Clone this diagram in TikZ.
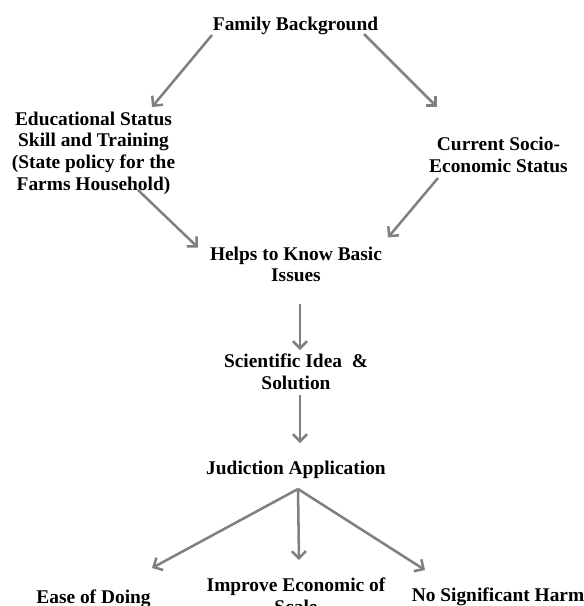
\documentclass[tikz,border=0pt]{standalone}
\usepackage{fontspec}
\setmainfont{Liberation Serif}
\definecolor{arrgray}{RGB}{128, 128, 128}
\usepackage{tikz}
\usetikzlibrary{arrows.meta, positioning, calc}

\begin{document}
\begin{tikzpicture}[x=0.025cm, y=-0.025cm,
  lbl/.style={align=center, inner sep=0pt, font=\fontsize{13.8}{15.4}\selectfont\bfseries},
  arr/.style={-{Straight Barb[length=5pt, width=10pt]}, line width=1.8pt, arrgray}]
  \useasboundingbox (0, 0) rectangle (584, 606);

  % Top of the chart
  \node[lbl] (fam) at (295.5, 26) {Family Background};
  \node[lbl] (edu) at (93.5, 153) {Educational Status\\Skill and Training\\(State policy for the\\Farms Household)};
  \node[lbl] (cur) at (498.5, 155) {Current Socio-\\Economic Status};

  % Middle column
  \node[lbl] (help) at (296, 264.5) {Helps to Know Basic\\Issues};
  \node[lbl] (sci) at (296, 372) {Scientific Idea~~\&\\Solution};
  \node[lbl] (jud) at (296, 470) {Judiction Application};

  % Outcomes (cut off at the bottom)
  \node[lbl] (ease) at (93.5, 599) {Ease of Doing};
  \node[lbl, anchor=north] (impr) at (296, 578) {Improve Economic of\\Scale};
  \node[lbl] (harm) at (498, 597) {No Significant Harm};

  % Arrows
  \draw[arr] ([shift={(-83.5, 9)}]fam.center) -- ([shift={(58.5, -46)}]edu.center);
  \draw[arr] ([shift={(68.5, 8)}]fam.center) -- ([shift={(-61.5, -48)}]cur.center);
  \draw[arr] ([shift={(44.5, 37)}]edu.center) -- ([shift={(-98, -17)}]help.center);
  \draw[arr] ([shift={(-60.5, 23)}]cur.center) -- ([shift={(92, -27)}]help.center);
  \draw[arr] ([shift={(4, 39)}]help.center) -- ([shift={(4, -22)}]sci.center);
  \draw[arr] ([shift={(4, 23)}]sci.center) -- ([shift={(4, -27)}]jud.center);

  % Fork below the application
  \coordinate (fork) at ([shift={(2, 19)}]jud.center);
  \draw[arr] (fork) -- ([shift={(58.5, -31)}]ease.center);
  \draw[arr] (fork) -- ([shift={(3, -18)}]impr.north);
  \draw[arr] (fork) -- ([shift={(-73, -27)}]harm.center);
\end{tikzpicture}
\end{document}
